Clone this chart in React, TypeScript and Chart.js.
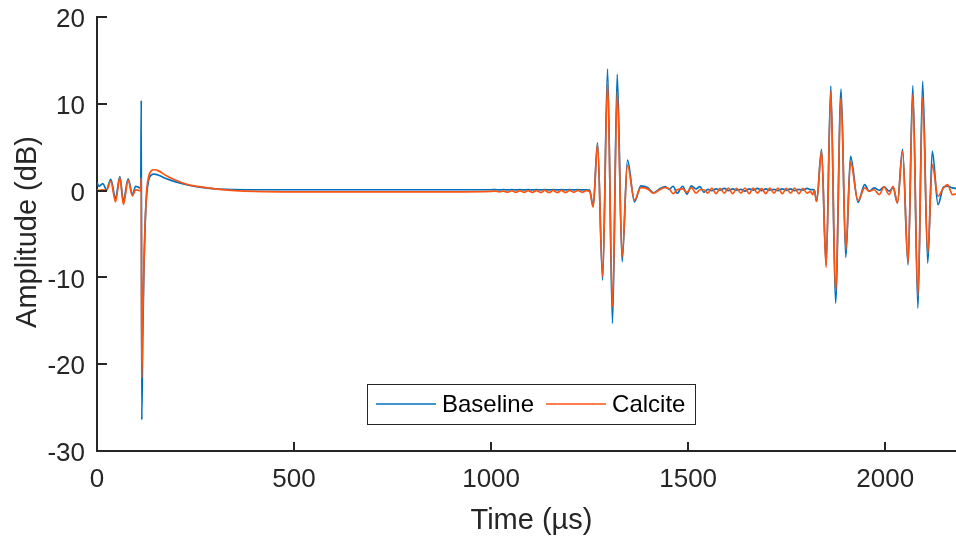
import React, { useEffect, useRef } from "react";
import { Chart, registerables } from "chart.js";

Chart.register(...registerables);

// ---- Data ----
const timeUs = [
  0, 5, 15, 24, 35, 47, 58, 67, 79, 90, 98, 107, 111, 112.3, 113.6, 116, 119, 122, 126, 131,
  138, 145, 155, 175, 200, 230, 260, 300, 350, 400, 500, 700, 900, 1000,
  1010, 1021, 1031, 1042, 1052, 1063, 1073, 1084, 1094, 1105, 1115, 1126, 1136, 1147, 1157,
  1168, 1178, 1189, 1199, 1210, 1220, 1231, 1241,
  1250, 1259, 1270, 1283, 1295.5, 1308, 1320, 1332.5, 1346, 1364, 1380,
  1397, 1412, 1428, 1442, 1452, 1462, 1472, 1486, 1497, 1508, 1520, 1530, 1540, 1550, 1560,
  1571, 1581, 1592, 1602, 1613, 1623, 1634, 1644, 1655, 1665, 1676, 1686, 1697, 1707, 1718,
  1728, 1739, 1749, 1760, 1770, 1781, 1791, 1802, 1810,
  1816, 1820, 1826, 1838.5, 1850, 1862, 1874, 1888, 1900, 1912, 1931, 1948, 1959, 1972, 1985,
  1997, 2010, 2020, 2031,
  2044, 2058, 2070, 2083, 2095, 2108, 2119.5, 2134, 2148, 2158, 2171, 2185,
];

const baselineDb = [
  0.9, 0.5, 0.8, 0.1, 1.3, -0.9, 1.6, -1.2, 1.35, -0.45, 0.5, 0.35, 0.3, 10.4, -26.4, -17, -9, -4, -0.5, 1.2,
  1.8, 1.9, 1.8, 1.4, 1.0, 0.65, 0.4, 0.2, 0.12, 0.1, 0.1, 0.1, 0.1, 0.1,
  0.12, 0.08, 0.12, 0.08, 0.12, 0.08, 0.12, 0.08, 0.12, 0.08, 0.12, 0.08, 0.12, 0.08, 0.12,
  0.08, 0.12, 0.08, 0.12, 0.08, 0.12, 0.08, 0.1,
  0.05, -1.8, 5.5, -10.3, 14.0, -15.3, 13.4, -8.2, 3.5, -1.3, 0.55,
  0.35, -0.25, 0.2, 0.45, 0.15, 0.5, -0.3, 0.5, -0.4, 0.55, 0.2, 0.45, -0.2, 0.15, 0.0,
  0.2, 0.05, 0.25, 0.0, 0.2, 0.05, 0.15, -0.05, 0.2, 0.05, 0.25, 0.0, 0.2, 0.05, 0.15,
  0.0, 0.2, 0.05, 0.2, 0.0, 0.15, 0.05, 0.25, 0.12,
  0.12, 0.1, -1.25, 4.74, -8.55, 12.05, -12.97, 11.7, -7.7, 3.96, -1.35, 0.69, -0.07, 0.31, 0.04,
  0.42, -0.07, 0.31, -1.43,
  4.74, -8.55, 12.1, -13.55, 12.6, -8.35, 4.55, -1.62, 0.42, 0.5, 0.31, 0.2,
];

const calciteDb = [
  0.1, 0.0, 0.1, 0.0, 1.1, -1.3, 1.5, -1.6, 1.2, -0.6, 0.1, 0.0, 0.0, 1.5, -21.6, -15, -8.5, -4, 0, 1.6,
  2.3, 2.4, 2.3, 1.75, 1.2, 0.7, 0.45, 0.2, 0.0, -0.1, -0.15, -0.15, -0.15, -0.1,
  -0.05, -0.15, -0.05, -0.18, -0.02, -0.2, 0.0, -0.2, 0.0, -0.22, 0.0, -0.22, 0.02, -0.22, 0.02,
  -0.22, 0.02, -0.22, 0.02, -0.2, 0.02, -0.2, 0.0,
  -0.1, -1.9, 5.3, -9.9, 12.6, -13.4, 11.4, -7.6, 2.95, -1.1, 0.35,
  0.2, -0.3, 0.1, 0.35, 0.2, -0.35, 0.1, 0.2, -0.2, 0.35, -0.3, 0.1, 0.1, -0.3, 0.3,
  -0.35, 0.25, -0.3, 0.3, -0.35, 0.25, -0.3, 0.3, -0.35, 0.3, -0.3, 0.25, -0.35, 0.3, -0.3,
  0.3, -0.35, 0.25, -0.3, 0.3, -0.35, 0.25, -0.3, -0.1,
  -0.46, 0.05, -1.25, 4.55, -8.85, 11.47, -11.6, 10.7, -6.8, 3.3, -1.15, 0.31, -0.07, 0.1, -0.46,
  0.42, -0.46, 0.5, -1.43,
  4.55, -8.35, 11.08, -12.2, 10.7, -7.2, 3.0, -0.65, 0.31, 0.69, -0.46, -0.3,
];

const seriesNames = ["Baseline", "Calcite"];
const xTickValues = [0, 500, 1000, 1500, 2000];
const yTickValues = [-30, -20, -10, 0, 10, 20];
const xTitle = "Time (µs)";
const yTitle = "Amplitude (dB)";

const FONT = '"Liberation Sans", Arial, Helvetica, sans-serif';
const INK = "#262626";
const BLUE = "#0072BD";
const ORANGE = "#FC5412";
const seriesColors = [BLUE, ORANGE];

const axesDecor = {
  id: "axesDecor",
  afterDraw(chart: any) {
    const { ctx, chartArea: a, scales } = chart;
    ctx.save();
    // inward ticks
    ctx.strokeStyle = INK;
    ctx.lineWidth = 2;
    for (const v of xTickValues) {
      const p = Math.round(scales.x.getPixelForValue(v));
      ctx.beginPath();
      ctx.moveTo(p, a.bottom);
      ctx.lineTo(p, a.bottom - 9);
      ctx.stroke();
    }
    for (const v of yTickValues) {
      const p = Math.round(scales.y.getPixelForValue(v));
      ctx.beginPath();
      ctx.moveTo(a.left, p);
      ctx.lineTo(a.left + 10, p);
      ctx.stroke();
    }
    // axis titles
    ctx.fillStyle = INK;
    ctx.font = `29px ${FONT}`;
    ctx.textAlign = "center";
    ctx.textBaseline = "alphabetic";
    ctx.fillText(xTitle, (a.left + a.right) / 2, a.bottom + 78);
    ctx.save();
    ctx.translate(a.left - 69, (a.top + a.bottom) / 2 - 2);
    ctx.rotate(-Math.PI / 2);
    ctx.textBaseline = "middle";
    ctx.fillText(yTitle, 0, 0);
    ctx.restore();

    // legend (south, inside axes)
    ctx.font = `24px ${FONT}`;
    const padL = 9, padR = 10, lineLen = 60, gap = 6, spacing = 12, boxH = 40;
    const widths = seriesNames.map((n) => ctx.measureText(n).width);
    let total = padL + padR;
    widths.forEach((w, i) => {
      total += lineLen + gap + w + (i < widths.length - 1 ? spacing : 0);
    });
    const cx = (a.left + a.right) / 2;
    const x0 = Math.round(cx - total / 2);
    const top = Math.round(a.bottom - 27 - boxH);
    ctx.fillStyle = "#ffffff";
    ctx.fillRect(x0, top, total, boxH);
    ctx.strokeStyle = INK;
    ctx.lineWidth = 1;
    ctx.strokeRect(x0 + 0.5, top + 0.5, Math.round(total), boxH);
    let x = x0 + padL;
    const ly = top + boxH / 2;
    seriesNames.forEach((n, i) => {
      ctx.strokeStyle = seriesColors[i];
      ctx.lineWidth = 1.5;
      ctx.beginPath();
      ctx.moveTo(x, ly);
      ctx.lineTo(x + lineLen, ly);
      ctx.stroke();
      x += lineLen + gap;
      ctx.fillStyle = "#000000";
      ctx.textAlign = "left";
      ctx.textBaseline = "middle";
      ctx.fillText(n, x, ly + 1);
      x += widths[i] + spacing;
    });
    ctx.restore();
  },
};

export default function App() {
  const ref = useRef<HTMLCanvasElement | null>(null);

  useEffect(() => {
    if (!ref.current) return;
    const mk = (vals: number[]) => timeUs.map((t, i) => ({ x: t, y: vals[i] }));
    const chart = new Chart(ref.current, {
      type: "line",
      data: {
        datasets: [
          {
            label: seriesNames[0],
            data: mk(baselineDb),
            borderColor: BLUE,
            backgroundColor: BLUE,
            borderWidth: 1.7,
            pointRadius: 0,
            cubicInterpolationMode: "monotone",
            tension: 0.4,
            order: 2,
          },
          {
            label: seriesNames[1],
            data: mk(calciteDb),
            borderColor: ORANGE,
            backgroundColor: ORANGE,
            borderWidth: 1.7,
            pointRadius: 0,
            cubicInterpolationMode: "monotone",
            tension: 0.4,
            order: 1,
          },
        ],
      },
      options: {
        animation: false,
        responsive: false,
        devicePixelRatio: 1,
        layout: { padding: { left: 0, right: 2, top: 17, bottom: 0 } },
        plugins: { legend: { display: false }, tooltip: { enabled: false } },
        scales: {
          x: {
            type: "linear",
            min: 0,
            max: 2205,
            afterBuildTicks: (s: any) => {
              s.ticks = xTickValues.map((v) => ({ value: v }));
            },
            afterFit: (s: any) => {
              s.height = 87;
              s.paddingLeft = 0;
              s.paddingRight = 0;
            },
            grid: { display: false, drawTicks: false },
            border: { display: true, color: INK, width: 2 },
            ticks: {
              font: { family: FONT, size: 26 },
              color: INK,
              padding: 13,
              maxRotation: 0,
              autoSkip: false,
              callback: (v: any) => String(v),
            },
          },
          y: {
            type: "linear",
            min: -30,
            max: 20,
            afterBuildTicks: (s: any) => {
              s.ticks = yTickValues.map((v) => ({ value: v }));
            },
            afterFit: (s: any) => {
              s.width = 97;
              s.paddingTop = 0;
              s.paddingBottom = 0;
            },
            grid: { display: false, drawTicks: false },
            border: { display: true, color: INK, width: 2 },
            ticks: {
              font: { family: FONT, size: 26 },
              color: INK,
              padding: 12,
              labelOffset: 3,
              autoSkip: false,
              callback: (v: any) => String(v),
            },
          },
        },
      },
      plugins: [axesDecor],
    } as any);
    return () => chart.destroy();
  }, []);

  return (
    <div
      style={{
        position: "fixed",
        left: 0,
        top: 0,
        width: 956,
        height: 538,
        overflow: "hidden",
        background: "#ffffff",
      }}
    >
      <canvas ref={ref} width={968} height={538} style={{ width: 968, height: 538, display: "block" }} />
    </div>
  );
}
